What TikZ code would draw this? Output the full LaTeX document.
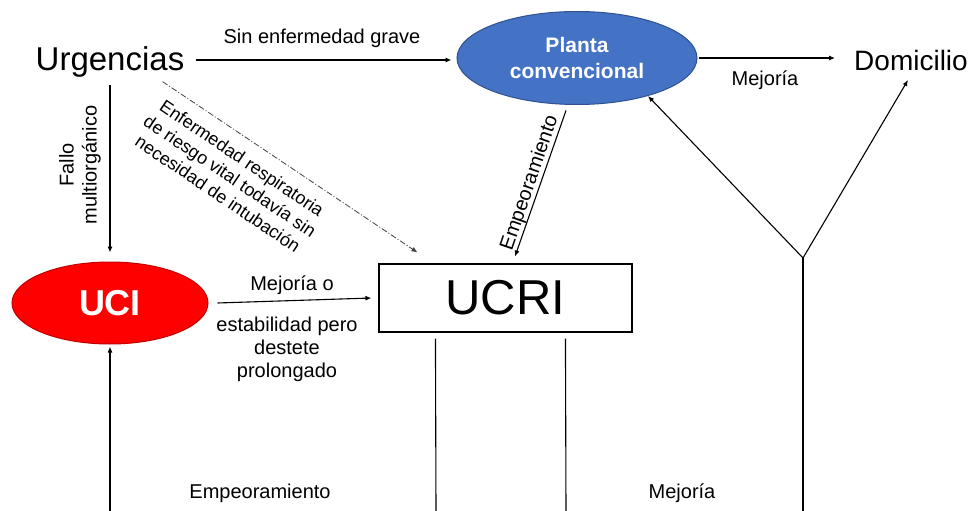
\documentclass[tikz,border=0pt]{standalone}
\usepackage{fontspec}
\setmainfont{Liberation Sans}
\usetikzlibrary{shapes.geometric,arrows.meta,calc}
\definecolor{pblue}{HTML}{4472C4}
\definecolor{pblueb}{HTML}{2F528F}
\definecolor{ured}{HTML}{FF0000}
\definecolor{uredb}{HTML}{C00000}
\newcommand{\fs}[1]{\fontsize{#1}{1.15\dimexpr#1pt\relax}\selectfont}
\begin{document}
\begin{tikzpicture}[x=1pt,y=-1pt,
  arr/.style={line width=1.1pt,-{Latex[length=6pt,width=5pt]}},
  ln/.style={line width=1.1pt},
  dd/.style={line width=0.8pt,draw=black!75,dash pattern=on 6pt off 2pt on 1pt off 2pt,-{Latex[length=6pt,width=5pt]}},
  lbl/.style={font=\fs{20}, inner sep=0pt, align=center},
  big/.style={inner sep=0pt}]
\useasboundingbox (0,0) rectangle (970,511);
% nodes
\node[big, font=\fs{33}] (urg) at (110,62) {Urgencias};
\node[ellipse, fill=pblue, draw=pblueb, line width=1pt, minimum width=240pt, minimum height=93pt,
      text=white, font=\fs{21}\bfseries, align=center, inner sep=0pt] (planta) at (577,58) {Planta\\[1pt]convencional};
\node[big, font=\fs{28}] (dom) at (911,60) {Domicilio};
\node[ellipse, fill=ured, draw=uredb, line width=1pt, minimum width=196pt, minimum height=82pt,
      text=white, font=\fs{36}\bfseries, inner sep=0pt] (uci) at (110,303) {UCI};
\node[rectangle, draw, line width=1.1pt, minimum width=253pt, minimum height=68pt, font=\fs{49}, inner sep=0pt] (ucri) at (505.5,298) {UCRI};
\coordinate (split) at (803,258);
\coordinate (b0) at (110,511);
\coordinate (b1) at (436,511);
\coordinate (b2) at (566,511);
\coordinate (b3) at (803,511);
% connectors
\draw[arr] ($(urg.east)+(12,-2)$) -- ($(planta.west)+(-5,2)$);
\node[lbl] (l1) at (322,38) {Sin enfermedad grave};
\draw[arr] ($(planta.east)+(1,0)$) -- ($(dom.west)+(-19,-2)$);
\node[lbl] (l2) at (765,80) {Mejoría};
\draw[arr] (110,85) -- ($(uci.north)+(0,-9)$);
\node[lbl, rotate=90] (l3) at (80,165) {Fallo\\multiorgánico};
\draw[dd] ($(urg.south east)+(-22,4)$) -- ($(ucri.north west)+(39,-11)$);
\node[lbl, font=\fontsize{18}{21.5}\selectfont, rotate=-34] (l4) at (230,176) {Enfermedad respiratoria\\de riesgo vital todavía sin\\necesidad de intubación};
\draw[arr] ($(planta.south)+(-11,5.5)$) -- ($(ucri.north)+(9.5,-7)$);
\node[lbl, rotate=71] (l5) at (530,183) {Empeoramiento};
\draw[arr] ($(uci.east)+(9,0)$) -- ($(ucri.west)+(-7,0)$);
\node[lbl] (l6) at (292,285) {Mejoría o};
\node[lbl] (l7) at (287,349) {estabilidad pero\\destete\\prolongado};
\draw[arr] (b0) -- ($(uci.south)+(0,2)$);
\draw[ln] ($(ucri.south west)+(57,6)$) -- (b1);
\draw[ln] ($(ucri.south west)+(187,6)$) -- (b2);
\draw[ln] (b3) -- (split);
\draw[arr] (split) -- ($(planta.center)+(71,38)$);
\draw[arr] (split) -- ($(dom.center)+(-3,20)$);
\node[lbl] (l8) at (260,493) {Empeoramiento};
\node[lbl] (l9) at (682,493) {Mejoría};
\end{tikzpicture}
\end{document}
